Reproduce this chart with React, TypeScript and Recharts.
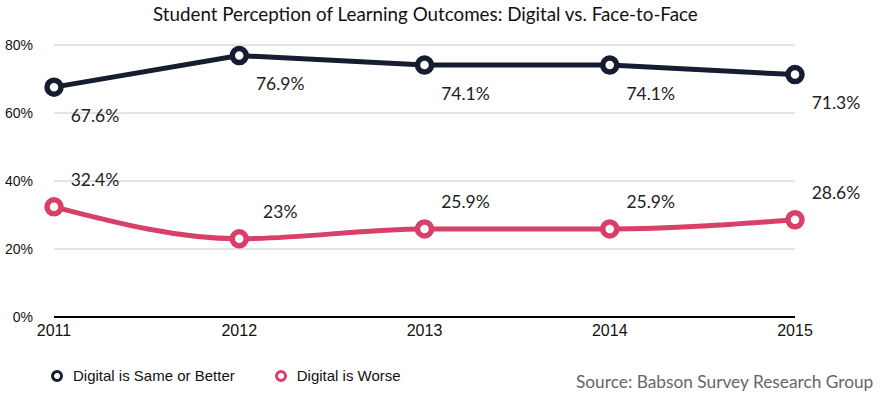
import React from "react";
import { CartesianGrid, Line, LineChart, XAxis, YAxis } from "recharts";

const years = ["2011", "2012", "2013", "2014", "2015"];
const sameOrBetter = [67.6, 76.9, 74.1, 74.1, 71.3];
const worse = [32.4, 23, 25.9, 25.9, 28.6];
const yTicks = [0, 20, 40, 60, 80];

const DARK = "#171d30";
const PINK = "#d83f69";

const data = years.map((year, i) => ({ year, same: sameOrBetter[i], worse: worse[i] }));

const labelFont = "Lato, 'Open Sans', sans-serif";
const axisFont = "'Liberation Sans', Arial, sans-serif";

function makeLabel(dx: number, dy: number, fmt: (v: number) => string) {
  return (props: any) => {
    const { x, y, value, index } = props;
    return (
      <text
        key={index}
        x={x + dx}
        y={y + dy}
        textAnchor="middle"
        dominantBaseline="central"
        fontFamily={labelFont}
        fontSize={17.5}
        fill="#222"
      >
        {fmt(value)}
      </text>
    );
  };
}

const pct = (v: number) => `${v}%`;

function LegendContent() {
  const items = [
    { name: "Digital is Same or Better", color: DARK },
    { name: "Digital is Worse", color: PINK },
  ];
  return (
    <div style={{ display: "flex", alignItems: "center" }}>
      {items.map((it) => (
        <div key={it.name} style={{ display: "flex", alignItems: "center", marginRight: 38 }}>
          <svg width={16} height={16} style={{ marginRight: 8 }}>
            <circle cx={8} cy={8} r={4.5} fill="#fff" stroke={it.color} strokeWidth={3} />
          </svg>
          <span style={{ fontFamily: axisFont, fontSize: 15, color: "#111" }}>{it.name}</span>
        </div>
      ))}
    </div>
  );
}

export default function App() {
  return (
    <div style={{ position: "absolute", left: 0, top: 0, width: 880, height: 398, background: "#fff" }}>
      <div
        style={{
          position: "absolute",
          top: 2,
          left: 153,
          whiteSpace: "nowrap",
          fontFamily: labelFont,
          fontSize: 18.8,
          color: "#111",
        }}
      >
        Student Perception of Learning Outcomes: Digital vs. Face-to-Face
      </div>
      <LineChart
        width={880}
        height={398}
        data={data}
        margin={{ top: 45, right: 85, bottom: 0, left: 0 }}
      >
        <CartesianGrid horizontal vertical={false} stroke="#c8c8c8" strokeWidth={1} />
        <XAxis
          dataKey="year"
          height={81}
          axisLine={{ stroke: "#000", strokeWidth: 2 }}
          tickLine={false}
          tick={{ fill: "#111", fontSize: 16, fontFamily: axisFont }}
          tickMargin={2}
        />
        <YAxis
          width={54}
          domain={[0, 80]}
          ticks={yTicks}
          axisLine={false}
          tickLine={false}
          tickMargin={15}
          tickFormatter={pct}
          tick={{ fill: "#111", fontSize: 14, fontFamily: axisFont }}
        />
        <Line
          type="linear"
          dataKey="same"
          name="Digital is Same or Better"
          stroke={DARK}
          strokeWidth={5}
          dot={{ r: 7, fill: "#fff", stroke: DARK, strokeWidth: 5.5 }}
          activeDot={false}
          label={makeLabel(41, 28, pct)}
          isAnimationActive={false}
        />
        <Line
          type="monotone"
          dataKey="worse"
          name="Digital is Worse"
          stroke={PINK}
          strokeWidth={5}
          dot={{ r: 7, fill: "#fff", stroke: PINK, strokeWidth: 5.5 }}
          activeDot={false}
          label={makeLabel(41, -27, pct)}
          isAnimationActive={false}
        />
      </LineChart>
      <div style={{ position: "absolute", left: 49, top: 367 }}>
        <LegendContent />
      </div>
      <div
        style={{
          position: "absolute",
          left: 576,
          top: 371,
          fontFamily: labelFont,
          fontSize: 17.3,
          color: "#666",
          whiteSpace: "nowrap",
        }}
      >
        Source: Babson Survey Research Group
      </div>
    </div>
  );
}
